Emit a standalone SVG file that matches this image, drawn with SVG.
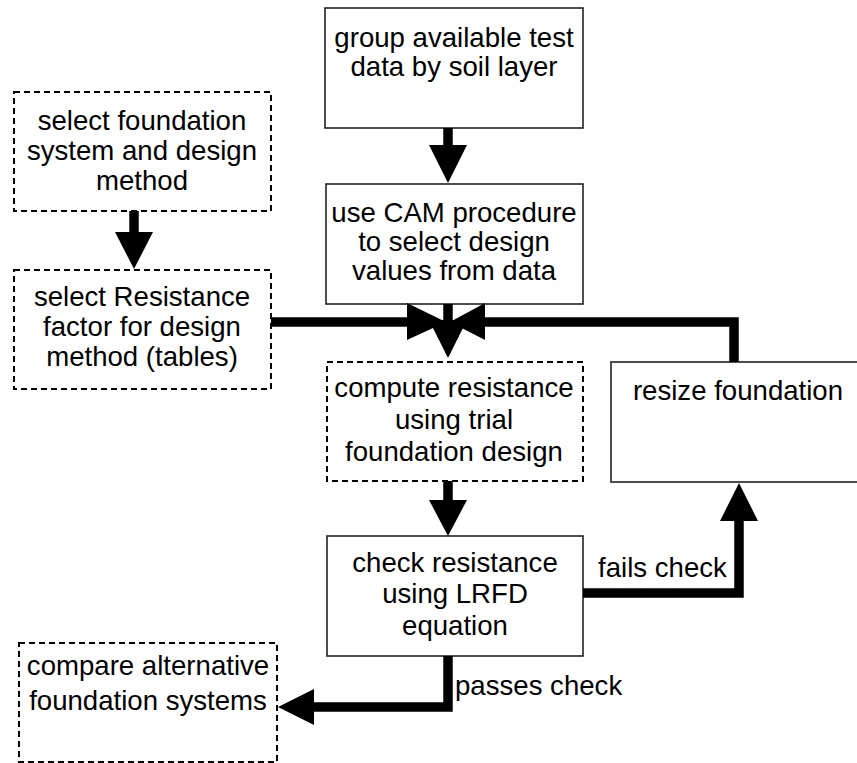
<svg xmlns="http://www.w3.org/2000/svg" width="857" height="763" viewBox="0 0 857 763">
<style>
text{font-family:"Liberation Sans",Arial,sans-serif;font-size:27.6px;fill:#000}
.c{text-anchor:middle}
.solid{fill:#fff;stroke:#222;stroke-width:1.6}
.dash{fill:#fff;stroke:#000;stroke-width:2;stroke-dasharray:6 4}
.line{fill:none;stroke:#000;stroke-width:9.5;stroke-linejoin:miter}
.head{fill:#000;stroke:none}
</style>
<rect width="857" height="763" fill="#fff"/>
<g id="n_group">
<rect class="solid" x="325" y="8" width="258" height="120"/>
<text class="c" x="454" y="47">group available test</text>
<text class="c" x="454" y="76">data by soil layer</text>
</g>
<g id="n_cam">
<rect class="solid" x="326" y="184" width="257" height="120"/>
<text class="c" x="454" y="222">use CAM procedure</text>
<text class="c" x="454" y="251">to select design</text>
<text class="c" x="454" y="280">values from data</text>
</g>
<g id="n_select_found">
<rect class="dash" x="14" y="92" width="257" height="119"/>
<text class="c" x="142" y="130">select foundation</text>
<text class="c" x="142" y="160">system and design</text>
<text class="c" x="142" y="190">method</text>
</g>
<g id="n_select_res">
<rect class="dash" x="14" y="270" width="257" height="119"/>
<text class="c" x="142" y="306">select Resistance</text>
<text class="c" x="142" y="336">factor for design</text>
<text class="c" x="142" y="366">method (tables)</text>
</g>
<g id="n_compute">
<rect class="dash" x="327" y="362" width="256" height="119"/>
<text class="c" x="454" y="397">compute resistance</text>
<text class="c" x="454" y="429">using trial</text>
<text class="c" x="454" y="461">foundation design</text>
</g>
<g id="n_resize">
<rect class="solid" x="611" y="362" width="270" height="120"/>
<text class="c" x="738" y="400">resize foundation</text>
</g>
<g id="n_check">
<rect class="solid" x="327" y="536" width="256" height="120"/>
<text class="c" x="455" y="572">check resistance</text>
<text class="c" x="455" y="603">using LRFD</text>
<text class="c" x="455" y="635">equation</text>
</g>
<g id="n_compare">
<rect class="dash" x="19" y="643" width="258" height="119"/>
<text class="c" x="148" y="675">compare alternative</text>
<text class="c" x="148" y="710">foundation systems</text>
</g>
<g id="connectors">
<line class="line" x1="448" y1="128" x2="448" y2="147"/>
<polygon class="head" points="429,145 467,145 448,183"/>
<line class="line" x1="134" y1="211" x2="134" y2="234"/>
<polygon class="head" points="115,232 153,232 134,269"/>
<line class="line" x1="271" y1="322" x2="409" y2="322"/>
<polygon class="head" points="407,303 407,340 446,322"/>
<polyline class="line" points="734,362 734,322 483,322"/>
<polygon class="head" points="485,303 485,340 450,322"/>
<line class="line" x1="448" y1="304" x2="448" y2="322"/>
<polygon class="head" points="429,320 467,320 448,358"/>
<line class="line" x1="448" y1="481" x2="448" y2="502"/>
<polygon class="head" points="429,500 467,500 448,536"/>
<polyline class="line" points="583,593 739,593 739,519"/>
<polygon class="head" points="720,521 758,521 739,483"/>
<polyline class="line" points="448,656 448,707 312,707"/>
<polygon class="head" points="314,689 314,725 278,707"/>
<text x="598" y="577">fails check</text>
<text x="455" y="695">passes check</text>
</g>
</svg>
